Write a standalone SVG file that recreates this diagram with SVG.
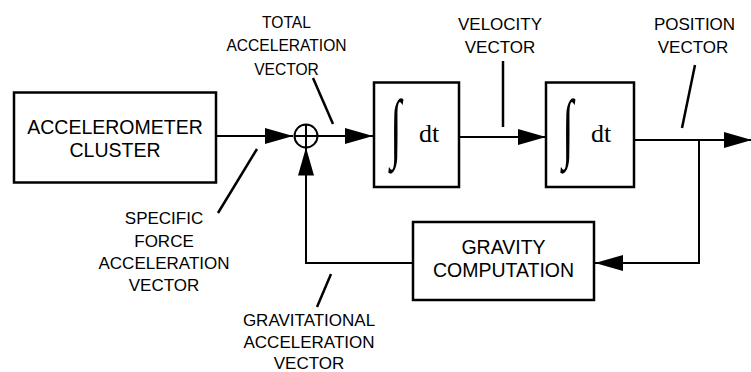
<svg xmlns="http://www.w3.org/2000/svg" width="751" height="372" viewBox="0 0 751 372">
<style>
.box{fill:#fff;stroke:#000;stroke-width:2.5}
.ln{fill:none;stroke:#000;stroke-width:2}
.tick{fill:none;stroke:#000;stroke-width:2.5}
.bt{font-family:"Liberation Sans",Arial,sans-serif;font-size:19.5px;text-anchor:middle;fill:#000}
.lt{font-family:"Liberation Sans",Arial,sans-serif;font-size:17px;text-anchor:middle;fill:#000}
.st{font-family:"Liberation Sans",Arial,sans-serif;font-size:15.6px;text-anchor:middle;fill:#000}
.dt{font-family:"Liberation Serif","Times New Roman",serif;font-size:26px;fill:#000}
.int{font-family:"Liberation Serif","DejaVu Serif",serif;font-size:40px;fill:#000;text-anchor:middle}
</style>
<defs>
<marker id="ah" markerUnits="userSpaceOnUse" markerWidth="28" markerHeight="16" refX="28" refY="8" orient="auto">
<path d="M0,0 L28,8 L0,16 z" fill="#000"/>
</marker>
</defs>
<g id="accelerometer">
<rect class="box" x="14" y="92.5" width="202" height="90"/>
<text class="bt" x="115" y="134">ACCELEROMETER</text>
<text class="bt" x="115" y="157">CLUSTER</text>
</g>
<g id="sum">
<circle cx="306" cy="136" r="11.5" fill="#fff" stroke="#000" stroke-width="2"/>
<path class="ln" d="M306,125 V147 M295,136 H317"/>
</g>
<g id="integrator1">
<rect class="box" x="374" y="82.5" width="85" height="104.5"/>
<text class="int" transform="translate(396,152.5) scale(1,1.92)" x="0" y="0">∫</text>
<text class="dt" x="419" y="142">dt</text>
</g>
<g id="integrator2">
<rect class="box" x="546" y="82.5" width="88" height="104.5"/>
<text class="int" transform="translate(568,152.5) scale(1,1.92)" x="0" y="0">∫</text>
<text class="dt" x="591" y="142">dt</text>
</g>
<g id="gravity">
<rect class="box" x="413" y="222" width="181" height="78"/>
<text class="bt" x="503.5" y="254">GRAVITY</text>
<text class="bt" x="503.5" y="277">COMPUTATION</text>
</g>
<g id="connectors">
<path class="ln" d="M216,136 H293" marker-end="url(#ah)"/>
<path class="ln" d="M317.5,136 H373" marker-end="url(#ah)"/>
<path class="ln" d="M459,137 H546" marker-end="url(#ah)"/>
<path class="ln" d="M634,140 H752" marker-end="url(#ah)"/>
<path class="ln" d="M699,140 V263 H595" marker-end="url(#ah)"/>
<path class="ln" d="M413,263 H306 V147.5" marker-end="url(#ah)"/>
</g>
<g id="labels">
<path class="tick" d="M313,78 L333,124"/>
<text class="st" x="286.5" y="28">TOTAL</text>
<text class="st" x="286.5" y="51">ACCELERATION</text>
<text class="st" x="286.5" y="74.5">VECTOR</text>
<path class="tick" d="M503,61 V127"/>
<text class="lt" x="500" y="29.5">VELOCITY</text>
<text class="lt" x="500" y="53">VECTOR</text>
<path class="tick" d="M695,65 L682,128"/>
<text class="lt" x="694.5" y="30">POSITION</text>
<text class="lt" x="693" y="53">VECTOR</text>
<path class="tick" d="M257,149 L218,213"/>
<text class="lt" x="164" y="224">SPECIFIC</text>
<text class="lt" x="164" y="246.5">FORCE</text>
<text class="lt" x="164" y="268.5">ACCELERATION</text>
<text class="lt" x="164" y="290.5">VECTOR</text>
<path class="tick" d="M331,274 L317,307"/>
<text class="lt" x="309" y="326">GRAVITATIONAL</text>
<text class="lt" x="309" y="348">ACCELERATION</text>
<text class="lt" x="309" y="368.5">VECTOR</text>
</g>
</svg>
